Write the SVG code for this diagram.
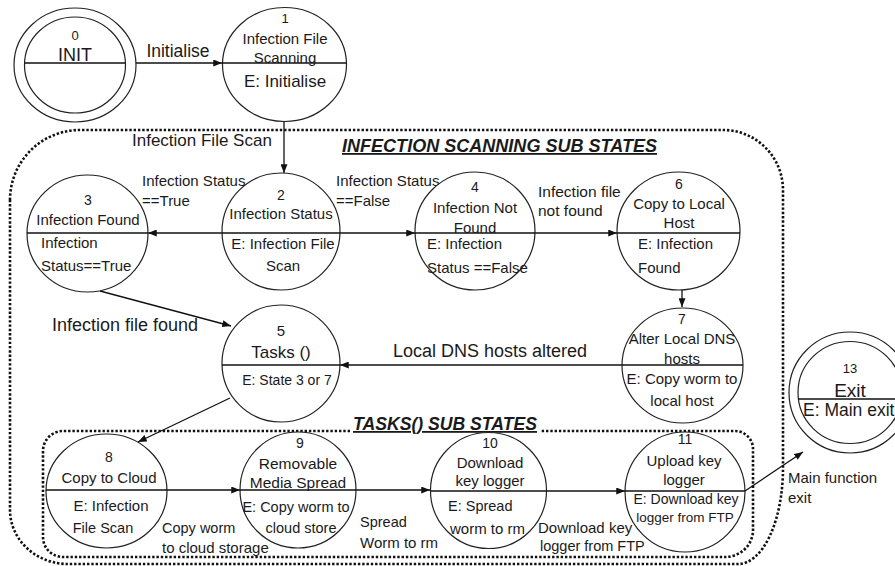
<svg xmlns="http://www.w3.org/2000/svg" width="895" height="566" viewBox="0 0 895 566">
<style>
text{font-family:"Liberation Sans",Arial,sans-serif;fill:#1a1a1a;dominant-baseline:central}
.m{text-anchor:middle}
.st{fill:#fff;stroke:#222;stroke-width:1.2}
.dv{stroke:#111;stroke-width:1.3}
.cn{stroke:#111;stroke-width:1.3;fill:none;marker-end:url(#ah)}
.box{fill:none;stroke:#111;stroke-width:2.6;stroke-dasharray:2.4 1.9}
.ttl{font-weight:bold;font-style:italic;font-size:18px;text-decoration:underline;dominant-baseline:alphabetic}
.f13{font-size:13px}.f14{font-size:14px}.f15{font-size:15px}.f17{font-size:17px}.f18{font-size:18px}
</style>
<defs>
<marker id="ah" viewBox="0 0 10 8" refX="10" refY="4" markerWidth="9" markerHeight="7" markerUnits="userSpaceOnUse" orient="auto">
<path d="M0,0 L10,4 L0,8 z" fill="#111"/>
</marker>
</defs>
<rect width="895" height="566" fill="#fff"/>

<g id="boxes">
<path class="box" d="M 10,200 A 70,70 0 0 1 80,130 L 723,130 A 60,60 0 0 1 783,190 L 783,468 A 45,96 0 0 1 738,564 L 68,564 A 58,54 0 0 1 10,510 Z"/>
<path class="box" d="M 350,431 L 63,431 A 20,20 0 0 0 43,451 L 43,537 A 20,20 0 0 0 63,557 L 725,557 A 28,27 0 0 0 753,530 L 753,449 A 18,18 0 0 0 735,431 L 540,431"/>
<text class="ttl" x="342" y="152" textLength="315" lengthAdjust="spacingAndGlyphs">INFECTION SCANNING SUB STATES</text>
<text class="ttl" x="353" y="430" textLength="184" lengthAdjust="spacingAndGlyphs">TASKS() SUB STATES</text>
</g>

<g id="connectors">
<line class="cn" x1="136" y1="63" x2="222" y2="63"/>
<line class="cn" x1="284" y1="122" x2="284" y2="173"/>
<line class="cn" x1="222" y1="233" x2="148" y2="233"/>
<line class="cn" x1="340" y1="233" x2="415" y2="233"/>
<line class="cn" x1="535" y1="233" x2="617" y2="233"/>
<line class="cn" x1="682" y1="290" x2="682" y2="307"/>
<line class="cn" x1="622" y1="365" x2="340" y2="365"/>
<line class="cn" x1="100" y1="291" x2="231" y2="326"/>
<line class="cn" x1="230" y1="398" x2="138" y2="442"/>
<line class="cn" x1="167" y1="490" x2="240" y2="490"/>
<line class="cn" x1="356" y1="490" x2="430" y2="490"/>
<line class="cn" x1="547" y1="491" x2="625" y2="491"/>
<line class="cn" x1="745" y1="491" x2="803" y2="452"/>
<text x="178" y="51" class="m" style="font-size:17.5px">Initialise</text>
<text x="132" y="140" class="f17">Infection File Scan</text>
<text x="142" y="180" class="f15">Infection Status</text>
<text x="142" y="200" class="f15">==True</text>
<text x="336" y="180" class="f15">Infection Status</text>
<text x="336" y="200" class="f15">==False</text>
<text x="538" y="191" style="font-size:15.5px">Infection file</text>
<text x="538" y="210" style="font-size:15.5px">not found</text>
<text x="393" y="351" class="f18">Local DNS hosts altered</text>
<text x="52" y="325" class="f18">Infection file found</text>
<text x="162" y="528" style="font-size:14.5px">Copy worm</text>
<text x="162" y="547" class="f15">to cloud storage</text>
<text x="360" y="522" style="font-size:14.5px">Spread</text>
<text x="360" y="542" class="f15">Worm to rm</text>
<text x="538" y="527" class="f15">Download key</text>
<text x="540" y="546" style="font-size:14.5px">logger from FTP</text>
<text x="788" y="477" class="f15">Main function</text>
<text x="788" y="497" class="f15">exit</text>
</g>

<g id="node0">
<ellipse class="st" cx="75" cy="65" rx="61" ry="57"/>
<ellipse class="st" cx="75" cy="65" rx="50.5" ry="48"/>
<line class="dv" x1="24.6" y1="63" x2="125.4" y2="63"/>
<text x="75" y="35" class="m f13">0</text>
<text x="75" y="55" class="m f18">INIT</text>
</g>

<g id="node1">
<ellipse class="st" cx="284.5" cy="64.5" rx="62" ry="57"/>
<line class="dv" x1="222.5" y1="63" x2="346.5" y2="63"/>
<text x="285" y="18" class="m f13">1</text>
<text x="285" y="38" class="m f15">Infection File</text>
<text x="285" y="57" class="m f15">Scanning</text>
<text x="285" y="81" class="m f17">E: Initialise</text>
</g>

<g id="node2">
<ellipse class="st" cx="281" cy="231.5" rx="59" ry="58.5"/>
<line class="dv" x1="222" y1="233" x2="340" y2="233"/>
<text x="281" y="195" class="m f14">2</text>
<text x="281" y="213" class="m f15">Infection Status</text>
<text x="283" y="243" class="m f15">E: Infection File</text>
<text x="283" y="265" class="m f15">Scan</text>
</g>

<g id="node3">
<ellipse class="st" cx="87.5" cy="233.5" rx="60.5" ry="58.5"/>
<line class="dv" x1="27" y1="233" x2="148" y2="233"/>
<text x="88" y="200" class="m f14">3</text>
<text x="88" y="219" class="m f15">Infection Found</text>
<text x="41" y="242" class="f15">Infection</text>
<text x="41" y="265" class="f15">Status==True</text>
</g>

<g id="node4">
<ellipse class="st" cx="475" cy="231" rx="60" ry="59"/>
<line class="dv" x1="415" y1="233" x2="535" y2="233"/>
<text x="475" y="187" class="m f14">4</text>
<text x="475" y="207" class="m f15">Infection Not</text>
<text x="475" y="227" class="m f15">Found</text>
<text x="427" y="243" class="f15">E: Infection</text>
<text x="427" y="267" class="f15">Status ==False</text>
</g>

<g id="node6">
<ellipse class="st" cx="678.5" cy="231" rx="61.5" ry="59"/>
<line class="dv" x1="617" y1="233" x2="740" y2="233"/>
<text x="679" y="184" class="m f14">6</text>
<text x="679" y="203" class="m f15">Copy to Local</text>
<text x="679" y="222" class="m f15">Host</text>
<text x="638" y="243" class="f15">E: Infection</text>
<text x="638" y="267" class="f15">Found</text>
</g>

<g id="node7">
<ellipse class="st" cx="682.5" cy="365.5" rx="60.5" ry="57.5"/>
<line class="dv" x1="622" y1="365" x2="743" y2="365"/>
<text x="682" y="319" class="m f14">7</text>
<text x="682" y="338" class="m f15">Alter Local DNS</text>
<text x="682" y="358" class="m f15">hosts</text>
<text x="682" y="378" class="m f15">E: Copy worm to</text>
<text x="682" y="400" class="m f15">local host</text>
</g>

<g id="node5">
<ellipse class="st" cx="281" cy="363.5" rx="59" ry="58.5"/>
<line class="dv" x1="222" y1="365" x2="340" y2="365"/>
<text x="281" y="330" class="m f15">5</text>
<text x="281" y="352" class="m f17">Tasks ()</text>
<text x="287" y="380" class="m f14">E: State 3 or 7</text>
</g>

<g id="node8">
<ellipse class="st" cx="106.5" cy="491" rx="60.5" ry="57"/>
<line class="dv" x1="46" y1="490" x2="167" y2="490"/>
<text x="109" y="457" class="m f14">8</text>
<text x="109" y="477" class="m f15">Copy to Cloud</text>
<text x="111" y="505" class="m f15">E: Infection</text>
<text x="103" y="528" class="m" style="font-size:14.5px">File Scan</text>
</g>

<g id="node9">
<ellipse class="st" cx="298" cy="490" rx="58" ry="58"/>
<line class="dv" x1="240" y1="490" x2="356" y2="490"/>
<text x="300" y="443" class="m f14">9</text>
<text x="298" y="463" class="m" style="font-size:15.5px">Removable</text>
<text x="298" y="482" class="m" style="font-size:15.5px">Media Spread</text>
<text x="296" y="507" class="m" style="font-size:14.5px">E: Copy worm to</text>
<text x="301" y="528" class="m" style="font-size:14.5px">cloud store</text>
</g>

<g id="node10">
<ellipse class="st" cx="488.5" cy="490.5" rx="58" ry="58"/>
<line class="dv" x1="430.5" y1="491" x2="546.5" y2="491"/>
<text x="490" y="443" class="m f14">10</text>
<text x="490" y="462" class="m f15">Download</text>
<text x="490" y="480" class="m f15">key logger</text>
<text x="448" y="506" style="font-size:14.5px">E: Spread</text>
<text x="450" y="528" class="f15">worm to rm</text>
</g>

<g id="node11">
<ellipse class="st" cx="685" cy="492" rx="60" ry="60"/>
<line class="dv" x1="625" y1="491" x2="745" y2="491"/>
<text x="685" y="439" class="m f14">11</text>
<text x="684" y="460" class="m f15">Upload key</text>
<text x="684" y="479" class="m f15">logger</text>
<text x="686" y="499" class="m f14">E: Download key</text>
<text x="685" y="517" class="m" style="font-size:13.5px">logger from FTP</text>
</g>

<g id="node13">
<ellipse class="st" cx="850" cy="392.5" rx="61" ry="60.5"/>
<ellipse class="st" cx="850" cy="392.5" rx="52" ry="51"/>
<line class="dv" x1="798.4" y1="399" x2="901.6" y2="399"/>
<text x="850" y="368" class="m f13">13</text>
<text x="850" y="390" class="m" style="font-size:19px">Exit</text>
<text x="803" y="410" style="font-size:17.5px">E: Main exit</text>
</g>
</svg>
